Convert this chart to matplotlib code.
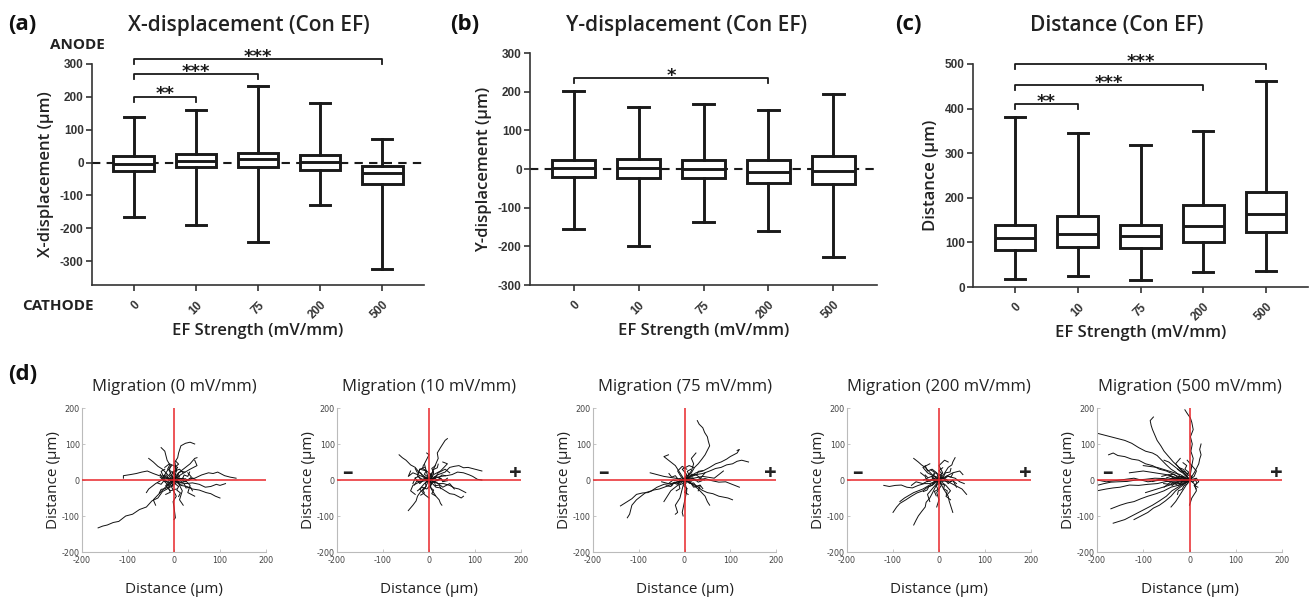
import numpy as np
import matplotlib
matplotlib.use("Agg")
import matplotlib.pyplot as plt

plt.rcParams["axes.unicode_minus"] = False

# ---- box plot data: (whisker low, q1, median, q3, whisker high) ----
ef_labels = ["0", "10", "75", "200", "500"]

x_disp = [[-165, -27, -5, 20, 140],
          [-190, -15, 5, 25, 160],
          [-242, -15, 10, 30, 233],
          [-128, -23, 2, 22, 182],
          [-325, -65, -32, -10, 72]]

y_disp = [[-155, -20, 2, 22, 203],
          [-200, -22, 2, 27, 160],
          [-137, -22, 0, 23, 167],
          [-160, -37, -8, 23, 153],
          [-228, -38, -5, 33, 193]]

dist = [[18, 83, 110, 140, 382],
        [25, 90, 118, 160, 345],
        [15, 88, 115, 140, 318],
        [33, 100, 137, 183, 350],
        [35, 123, 163, 213, 462]]

# significance brackets: (from, to, height, label)
sig_x = [(0, 1, 200, "**"), (0, 2, 270, "***"), (0, 4, 315, "***")]
sig_y = [(0, 3, 235, "*")]
sig_d = [(0, 1, 410, "**"), (0, 3, 453, "***"), (0, 4, 500, "***")]

# ---- migration tracks (x0, y0, x1, y1, ...) in um ----
tracks_0 = [
    [0, 0, -15, -25, -25, -32, -35, -50, -48, -58, -60, -75, -75, -82, -90, -95, -105, -100,
     -120, -115, -132, -118, -145, -125, -155, -128, -165, -133],
    [0, 0, 12, -8, 20, -5, 32, 2, 45, 5, 60, 14, 75, 20, 85, 18, 95, 22, 110, 12, 122, 8, 135, 5],
    [0, 0, 25, -10, 40, -8, 55, -12, 68, -20, 80, -18, 92, -12, 100, -15, 112, -10],
    [0, 0, 15, -15, 28, -18, 40, -25, 55, -28, 70, -35, 80, -38, 90, -45, 100, -50],
    [0, 0, -20, 10, -32, 12, -45, 18, -58, 25, -70, 22, -82, 18, -95, 15, -110, 12, -110, 5],
    [0, 0, 5, 25, 2, 50, 8, 62, 10, 75, 15, 95, 25, 102, 35, 105, 45, 100],
    [0, 0, -10, 25, -8, 40, -15, 55, -20, 80, -28, 90],
    [0, 0, 10, 20, 25, 35, 35, 45, 45, 60, 50, 62],
    [0, 0, -5, -20, 5, -45, -2, -60, 0, -75, 3, -105, 0, -110],
    [0, 0, -15, -15, -30, -35, -45, -55, -40, -70],
    [0, 0, -20, 5, -40, -10, -55, -25, -60, -35],
    [0, 0, 15, 15, 35, 30, 50, 40, 45, 55],
    [0, 0, -10, 10, -25, 30, -35, 38, -45, 50, -55, 60],
    [0, 0, 20, 5, 35, -15, 30, -35, 45, -45],
    [0, 0, -12, -8, -25, 5, -15, 25, -5, 40],
    [0, 0, 10, -10, 18, -30, 12, -55, 20, -70],
    [0, 0, 8, 12, -5, 22, 12, 30, 20, 20],
    [0, 0, -8, -5, -18, -15, -8, -30, 5, -25],
    [0, 0, 12, 5, 25, -5, 38, 8, 30, 20],
    [0, 0, -5, 15, 8, 35, -10, 45, -20, 35],
    [0, 0, 5, -8, -10, -18, -20, -5, -30, 8],
    [0, 0, 6, -4, 10, 6, 18, 2, 22, 14, 30, 10, 34, 22],
    [0, 0, -4, 6, -12, 4, -16, 14, -24, 12, -28, 24, -20, 30],
    [0, 0, 4, 10, -2, 18, 6, 26, 2, 36, 10, 44, 4, 52],
    [0, 0, -6, -6, -2, -16, -12, -22, -8, -34, -18, -40],
    [0, 0, 8, -2, 12, -12, 22, -10, 26, -22, 36, -20, 40, -30],
    [0, 0, -8, 2, -14, -6, -22, -2, -28, -12, -36, -8],
    [0, 0, 2, -10, 10, -18, 6, -28, 14, -36, 10, -46],
    [0, 0, -2, 8, -10, 14, -6, 24, -14, 30, -10, 40],
    [0, 0, 10, 4, 16, -4, 24, 4, 32, -2, 40, 6, 48, 0],
    [0, 0, -6, -10, -14, -14, -18, -24, -28, -26, -32, -36],
    [0, 0, 4, 6, 12, 10, 8, 18, 16, 24, 24, 22],
    [0, 0, -10, -2, -16, 8, -26, 6, -30, 16],
]

tracks_10 = [
    [0, 0, -15, 15, -22, 22, -30, 35, -40, 42, -50, 55, -58, 62, -65, 70],
    [0, 0, 10, 30, 20, 60, 18, 75, 25, 90, 35, 110, 40, 115],
    [0, 0, 20, 15, 35, 22, 45, 35, 55, 38, 65, 40, 75, 34, 85, 35, 100, 30, 115, 25],
    [0, 0, 25, 10, 38, 12, 50, 15, 62, 22, 75, 20, 88, 14, 95, 10, 105, 2, 115, 0],
    [0, 0, 20, -10, 32, -10, 45, -15, 55, -22, 65, -25, 80, -35],
    [0, 0, 15, -20, 25, -22, 35, -30, 45, -38, 55, -40, 70, -50, 75, -45],
    [0, 0, -10, -25, -18, -32, -25, -45, -28, -58, -35, -70, -45, -85],
    [0, 0, 5, -25, 15, -45, 22, -55, 25, -65, 28, -70],
    [0, 0, -20, -5, -35, -15, -40, -30, -30, -40],
    [0, 0, -15, 10, -35, 20, -45, 10, -40, 25],
    [0, 0, 10, 15, 25, 25, 40, 45, 30, 50],
    [0, 0, -5, 20, -10, 45, 0, 70, -5, 75],
    [0, 0, 15, -5, 30, -20, 45, -10, 55, -25],
    [0, 0, -10, -10, -20, -25, -10, -40, 0, -50],
    [0, 0, 8, 10, -5, 25, -20, 30, -25, 15],
    [0, 0, -8, 5, -20, -10, -30, 5, -35, -10],
    [0, 0, 12, 3, 20, 20, 35, 30, 45, 20],
    [0, 0, 5, -12, -5, -25, -15, -20, -25, -30],
    [0, 0, 10, -5, 25, 5, 30, -5, 40, 5],
    [0, 0, -12, 0, -25, 10, -20, 30, -10, 35],
    [0, 0, 6, 8, 2, 16, 10, 22, 6, 32, 14, 40],
    [0, 0, -6, -4, -10, 4, -18, 0, -22, 10, -30, 6],
    [0, 0, 4, -8, 12, -6, 14, -16, 22, -14, 26, -24],
    [0, 0, -4, 10, -10, 16, -6, 26, -14, 32, -12, 42],
    [0, 0, 8, 2, 14, 10, 22, 6, 28, 14, 36, 12],
    [0, 0, -8, -8, -6, -18, -14, -26, -10, -36, -18, -42],
    [0, 0, 2, 12, 10, 18, 8, 28, 18, 34, 20, 44],
    [0, 0, -10, 2, -18, -6, -26, -2, -32, -14],
    [0, 0, 6, -10, 2, -20, 10, -28, 6, -38, 14, -44],
    [0, 0, 12, 6, 18, -2, 26, 4, 32, -4, 40, -2],
    [0, 0, -4, 6, -14, 10, -18, 20, -26, 22, -30, 32],
]

tracks_75 = [
    [0, 0, 15, 20, 22, 35, 30, 45, 38, 58, 45, 70, 55, 95, 52, 108, 50, 120, 44, 132,
     40, 145, 32, 155, 28, 165],
    [0, 0, 25, 15, 40, 18, 55, 25, 68, 32, 80, 35, 92, 42, 105, 45, 115, 52, 125, 55, 140, 50],
    [0, 0, 25, 20, 40, 25, 55, 35, 68, 45, 80, 50, 92, 58, 100, 65, 115, 75, 120, 85, 115, 82],
    [0, 0, 30, 0, 45, 4, 60, -2, 75, -6, 90, -5, 100, -10, 110, -15, 120, -20],
    [0, 0, 25, -15, 38, -28, 50, -35, 62, -38, 75, -45, 95, -50, 105, -55],
    [0, 0, -30, -10, -45, -12, -60, -20, -72, -30, -85, -35, -95, -45, -105, -55, -115, -70,
     -120, -95, -125, -105],
    [0, 0, -25, -10, -40, -18, -55, -25, -68, -28, -80, -35, -92, -36, -105, -40, -115, -52,
     -125, -60, -140, -72],
    [0, 0, -10, 20, -20, 40, -28, 48, -35, 55, -45, 65, -35, 70],
    [0, 0, -5, -25, -10, -50, -20, -70, -15, -90, -20, -95],
    [0, 0, 5, -30, 0, -60, -5, -90, -3, -100],
    [0, 0, 15, 25, 20, 45, 15, 60, 25, 75],
    [0, 0, 20, 5, 40, 10, 65, 5, 75, 15, 85, 25],
    [0, 0, -20, 5, -45, 10, -60, 15, -75, 20],
    [0, 0, 15, -10, 30, -25, 45, -45, 50, -60, 55, -70],
    [0, 0, -15, -15, -30, -30, -40, -50, -45, -60],
    [0, 0, 10, 10, 25, 15, 35, 5, 45, 20],
    [0, 0, -10, -5, -25, 0, -35, -10, -50, -5],
    [0, 0, 5, 15, -5, 30, 10, 40, 20, 35],
    [0, 0, 12, -5, 20, -20, 35, -15, 30, -30],
    [0, 0, -8, 10, -15, 25, -5, 38, 5, 30],
    [0, 0, 8, 4, 14, -4, 22, 2, 30, -6, 38, -2],
    [0, 0, -6, 6, -14, 2, -20, 12, -28, 8, -34, 18],
    [0, 0, 4, -8, -2, -16, 6, -24, 0, -34, 8, -40],
    [0, 0, 10, 8, 16, 16, 26, 14, 30, 24, 40, 26],
    [0, 0, -8, -4, -16, -12, -24, -8, -30, -18, -40, -16],
    [0, 0, 2, 10, 10, 14, 6, 24, 14, 30],
    [0, 0, -10, 0, -14, -10, -22, -6, -28, -16],
    [0, 0, 12, -10, 20, -8, 26, -18, 34, -14, 40, -24],
    [0, 0, -4, -10, -12, -14, -10, -24, -18, -30],
    [0, 0, 6, 4, 18, 6, 24, -2, 34, 4, 44, 0],
]

tracks_200 = [
    [0, 0, -15, -15, -25, -20, -35, -30, -48, -36, -60, -45, -72, -55, -85, -65, -92, -75,
     -100, -90],
    [0, 0, -20, -10, -32, -10, -45, -15, -58, -22, -70, -20, -82, -14, -95, -15, -108, -18,
     -120, -15],
    [0, 0, -10, -25, -15, -38, -20, -50, -28, -62, -30, -75, -38, -88, -45, -100, -50, -112,
     -55, -125],
    [0, 0, -15, 15, -30, 35, -38, 42, -45, 50, -55, 60],
    [0, 0, 10, 15, 20, 35, 28, 42, 30, 50, 35, 62],
    [0, 0, 20, -5, 35, -15, 50, -25, 60, -40],
    [0, 0, 10, -25, 20, -45, 22, -58, 25, -70, 30, -90],
    [0, 0, -15, -10, -35, -25, -55, -35, -75, -50, -85, -60],
    [0, 0, 15, 10, 30, 20, 45, 25, 52, 15],
    [0, 0, -10, 10, -25, 20, -35, 35, -20, 45],
    [0, 0, 5, -15, -5, -35, 0, -55, -5, -75],
    [0, 0, 20, 10, 35, 5, 45, -5, 55, -10],
    [0, 0, -20, 0, -35, -10, -50, -5, -60, -15],
    [0, 0, 8, 20, 0, 40, 12, 55, 20, 50],
    [0, 0, -5, -10, -15, -25, -25, -40, -20, -60],
    [0, 0, 15, -15, 25, -30, 15, -45, 25, -55],
    [0, 0, -12, 5, -25, -5, -30, 10, -40, 20],
    [0, 0, 10, 5, 20, -10, 30, 0, 38, -20],
    [0, 0, 5, 12, -8, 20, -15, 8, -10, -5],
    [0, 0, -5, 20, -15, 30, -25, 25, -30, 40],
    [0, 0, 6, 8, 12, 2, 18, 12, 26, 8, 30, 18],
    [0, 0, -6, -6, -12, 2, -20, -4, -26, 4, -34, 0],
    [0, 0, 4, -10, 12, -14, 10, -24, 18, -30, 16, -40],
    [0, 0, -2, 10, 6, 18, 0, 26, 8, 34],
    [0, 0, -10, -4, -14, -14, -22, -18, -26, -28, -34, -32],
    [0, 0, 8, -4, 16, 2, 22, -6, 30, -2, 38, -10],
    [0, 0, -4, 8, -12, 12, -10, 22, -18, 28],
    [0, 0, 2, -8, -6, -16, -2, -26, -10, -32, -6, -44],
    [0, 0, 10, 10, 14, 20, 24, 22, 26, 32],
    [0, 0, -8, 2, -16, 10, -24, 6, -30, 14],
]

tracks_500 = [
    [0, 0, -20, 10, -30, 22, -40, 30, -50, 42, -60, 55, -70, 68, -80, 75, -95, 80, -110, 90,
     -125, 102, -140, 110, -155, 115, -170, 120, -185, 125, -200, 130],
    [0, 0, -25, 10, -38, 18, -50, 25, -65, 30, -80, 40, -95, 45, -110, 55, -125, 58, -140, 65,
     -155, 68, -165, 75, -175, 70],
    [0, 0, -30, -5, -50, -4, -70, -10, -90, -12, -110, -15, -130, -14, -150, -20, -165, -22,
     -180, -25, -200, -30],
    [0, 0, -35, 0, -55, 4, -75, 5, -95, 2, -115, 0, -135, -4, -155, -5, -170, -6, -185, -10,
     -200, -15],
    [0, 0, -25, -15, -40, -20, -55, -30, -72, -38, -90, -45, -105, -52, -120, -60, -135, -64,
     -150, -70, -170, -80],
    [0, 0, -25, -20, -38, -30, -50, -45, -65, -58, -80, -70, -95, -80, -110, -90, -125, -100,
     -140, -110, -165, -120],
    [0, 0, -20, -20, -30, -30, -40, -45, -52, -58, -65, -70, -78, -78, -90, -90, -105, -100,
     -120, -110],
    [0, 0, -15, 25, -25, 38, -35, 50, -45, 65, -55, 80, -62, 95, -70, 110, -75, 125, -80, 140,
     -83, 152, -85, 165, -78, 175],
    [0, 0, 5, 40, 8, 60, 3, 80, 6, 100, 2, 120, 8, 140, 5, 160, 2, 172, -5, 185, -10, 195],
    [0, 0, 10, 20, 15, 32, 20, 45, 22, 58, 25, 70, 22, 85, 25, 100],
    [0, 0, -20, 15, -45, 25, -70, 35, -100, 40],
    [0, 0, -15, 20, -30, 35, -45, 50, -55, 55],
    [0, 0, -25, 5, -50, 15, -75, 20, -100, 25, -130, 20],
    [0, 0, -20, -5, -45, -15, -70, -25, -95, -35],
    [0, 0, -10, -20, -20, -40, -30, -60, -40, -75],
    [0, 0, 10, -10, 15, -30, 5, -50, 0, -70],
    [0, 0, -15, 10, -30, 5, -45, 15, -60, 10],
    [0, 0, 10, 10, 15, 25, 5, 40, -5, 55],
    [0, 0, -10, -10, -25, -15, -40, -5, -55, -20],
    [0, 0, 15, 5, 20, -5, 10, -15, 15, -25],
    [0, 0, -8, 15, -20, 30, -30, 45, -20, 60],
    [0, 0, -30, 5, -60, 0, -90, -5, -120, 5, -150, 0, -180, -5, -200, 0],
    [0, 0, -8, 4, -16, -2, -24, 6, -32, 2, -40, 10, -50, 6],
    [0, 0, -6, -6, -14, -2, -20, -10, -30, -8, -38, -16],
    [0, 0, 6, 8, 0, 16, -8, 20, -14, 30, -22, 34],
    [0, 0, -10, 2, -18, 10, -26, 8, -34, 16, -44, 14],
    [0, 0, 8, -6, 12, 2, 16, -8, 12, -16, 18, -20],
    [0, 0, -4, -10, -12, -16, -16, -26, -24, -30, -26, -40],
    [0, 0, -12, -4, -22, -10, -32, -6, -42, -12, -56, -10],
    [0, 0, 4, 10, -4, 14, -10, 24, -18, 22, -26, 30],
    [0, 0, -6, 12, -2, 22, -10, 30, -6, 40, -14, 48],
    [0, 0, -16, 6, -28, 0, -40, 4, -52, -2, -66, 2, -80, -4],
]

mig_titles = ["Migration (0 mV/mm)", "Migration (10 mV/mm)", "Migration (75 mV/mm)",
              "Migration (200 mV/mm)", "Migration (500 mV/mm)"]
mig_tracks = [tracks_0, tracks_10, tracks_75, tracks_200, tracks_500]

W, H = 1313, 599
fig = plt.figure(figsize=(W / 100, H / 100), dpi=100)

TXT = "Open Sans"
NUM = "Liberation Sans"


def rect(l, t, r, b):
    return [l / W, 1 - b / H, (r - l) / W, (b - t) / H]


def box_panel(r, stats, ylim, yticks, ylabel, title, sigs, zero_line, title_x, lab_x, panel):
    ax = fig.add_axes(rect(*r))
    bx = [dict(whislo=s[0], q1=s[1], med=s[2], q3=s[3], whishi=s[4], fliers=[]) for s in stats]
    lp = dict(color="#1a1a1a", linewidth=2.1)
    ax.bxp(bx, positions=range(len(bx)), widths=0.65, showfliers=False, patch_artist=True,
           boxprops=dict(facecolor="white", edgecolor="#1a1a1a", linewidth=2.1),
           whiskerprops=lp, capprops=lp, medianprops=lp, capwidths=0.32)
    if zero_line:
        ax.axhline(0, color="#1a1a1a", linestyle=(0, (4, 3)), linewidth=1.5, zorder=0)
    ax.set_xlim(-0.67, 4.67)
    ax.set_ylim(*ylim)
    ax.set_yticks(yticks)
    ax.set_xticks(range(5))
    ax.set_xticklabels(ef_labels, rotation=45, ha="right", va="top", rotation_mode="anchor",
                       fontfamily=NUM, fontweight="bold", fontsize=8.5)
    for lab in ax.get_yticklabels():
        lab.set_fontfamily(NUM)
        lab.set_fontweight("bold")
        lab.set_fontsize(8.5)
    for s in ["top", "right"]:
        ax.spines[s].set_visible(False)
    for s in ["left", "bottom"]:
        ax.spines[s].set_color("#333333")
        ax.spines[s].set_linewidth(1.2)
    ax.tick_params(colors="#333333", length=4, width=1.2, pad=2)
    ax.tick_params(axis="x", pad=6)
    ax.set_ylabel(ylabel, fontfamily=TXT, fontweight="semibold", fontsize=12, color="#222222", labelpad=4)
    ax.set_xlabel("EF Strength (mV/mm)", fontfamily=TXT, fontweight="semibold", fontsize=12,
                  color="#222222", labelpad=1)
    span = ylim[1] - ylim[0]
    for a, b, h, lab in sigs:
        d = span * 0.022
        ax.plot([a, a, b, b], [h - d, h, h, h - d], color="#1a1a1a", linewidth=1.3, clip_on=False)
        ax.text((a + b) / 2, h - span * 0.012, lab, ha="center", va="baseline", fontsize=13,
                fontweight="bold", fontfamily="DejaVu Sans", color="#1a1a1a")
    fig.text(title_x / W, 1 - 25 / H, title, ha="center", va="center", fontfamily=TXT,
             fontweight="semibold", fontsize=15, color="#222222")
    fig.text(lab_x / W, 1 - 25 / H, panel, ha="left", va="center", fontfamily=TXT,
             fontweight="bold", fontsize=16, color="#111111")
    return ax


box_panel((92, 64, 424, 285), x_disp, (-373, 300), [-300, -200, -100, 0, 100, 200, 300],
          "X-displacement (\u00b5m)", "X-displacement (Con EF)", sig_x, True, 249, 8, "(a)")
box_panel((530, 53, 877, 285), y_disp, (-300, 300), [-300, -200, -100, 0, 100, 200, 300],
          "Y-displacement (\u00b5m)", "Y-displacement (Con EF)", sig_y, True, 687, 450, "(b)")
box_panel((973, 64, 1308, 287), dist, (0, 500), [0, 100, 200, 300, 400, 500],
          "Distance (\u00b5m)", "Distance (Con EF)", sig_d, False, 1117, 895, "(c)")

fig.text(50 / W, 1 - 45 / H, "ANODE", ha="left", va="center", fontfamily=TXT,
         fontweight="bold", fontsize=11, color="#222222")
fig.text(22 / W, 1 - 306 / H, "CATHODE", ha="left", va="center", fontfamily=TXT,
         fontweight="bold", fontsize=11, color="#222222")

# ---- migration panels ----
mig_rects = [(82, 408, 266, 552), (337, 408, 521, 552), (593, 408, 776, 552),
             (847, 408, 1031, 552), (1097, 408, 1282, 552)]
for i, (r, ttl, trk) in enumerate(zip(mig_rects, mig_titles, mig_tracks)):
    ax = fig.add_axes(rect(*r))
    for t in trk:
        p = np.array(t).reshape(-1, 2)
        ax.plot(p[:, 0], p[:, 1], color="#111111", linewidth=0.7)
    ax.axhline(0, color="#e8262a", linewidth=1.1, zorder=3)
    ax.axvline(0, color="#e8262a", linewidth=1.1, zorder=3)
    ax.set_xlim(-200, 200)
    ax.set_ylim(-200, 200)
    ax.set_xticks([-200, -100, 0, 100, 200])
    ax.set_yticks([-200, -100, 0, 100, 200])
    for s in ["top", "right"]:
        ax.spines[s].set_visible(False)
    for s in ["left", "bottom"]:
        ax.spines[s].set_color("#bbbbbb")
        ax.spines[s].set_linewidth(0.8)
    ax.tick_params(direction="in", length=2, width=0.6, colors="#bbbbbb", labelcolor="#444444",
                   labelsize=5.8, pad=1.5)
    ax.tick_params(axis="x", pad=3)
    ax.set_title(ttl, fontfamily=TXT, fontsize=12, color="#222222", pad=12)
    ax.set_ylabel("Distance (\u00b5m)", fontfamily=TXT, fontsize=11, color="#222222", labelpad=1)
    ax.set_xlabel("Distance (\u00b5m)", fontfamily=TXT, fontsize=11, color="#222222", labelpad=12)
    if i > 0:
        ax.text(-178, 18, "\u2013", ha="center", va="center", fontsize=15, fontweight="bold",
                fontfamily=TXT, color="#222222")
        ax.text(188, 18, "+", ha="center", va="center", fontsize=16, fontweight="bold",
                fontfamily=TXT, color="#222222")

fig.text(8 / W, 1 - 375 / H, "(d)", ha="left", va="center", fontfamily=TXT,
         fontweight="bold", fontsize=16, color="#111111")

fig.savefig("out.png", dpi=100)
